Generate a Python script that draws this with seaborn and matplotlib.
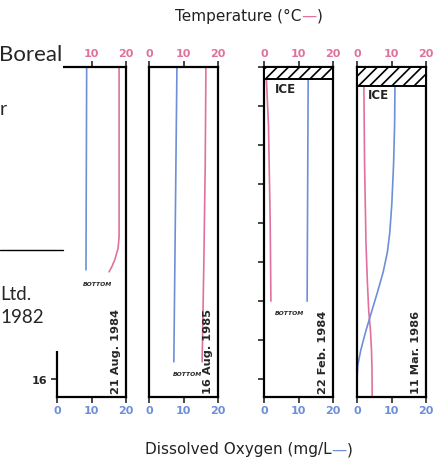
import pandas as pd
import seaborn as sns
import matplotlib.pyplot as plt
from matplotlib.patches import Rectangle

pink = "#e0719e"
blue = "#6d8fd8"

dates = ["21 Aug. 1984", "16 Aug. 1985", "22 Feb. 1984", "11 Mar. 1986"]
ice_depth = [None, None, 0.65, 1.0]
has_bottom = [True, True, True, False]
depth_ticks = [0, 2, 4, 6, 8, 10, 12, 14, 16]
x_ticks = [0, 10, 20]

# temperature profiles (depth in m, deg C)
temp_depth_1 = [0, 8.7, 9.3, 9.85, 10.2, 10.5]
temp_1 = [18.0, 18.0, 17.7, 16.8, 16.0, 15.1]
temp_depth_2 = [0, 5, 10, 15.1]
temp_2 = [16.5, 16.3, 15.9, 15.4]
temp_depth_3 = [0.65, 3, 8, 12.0]
temp_3 = [0.7, 1.3, 1.8, 2.0]
temp_depth_4 = [1.0, 5, 9, 11, 12.5, 13.5, 14.5, 15.5, 16.9]
temp_4 = [2.0, 2.2, 2.6, 3.0, 3.4, 3.9, 4.2, 4.35, 4.4]

# dissolved oxygen profiles (depth in m, mg/L)
do_depth_1 = [0, 10.4]
do_1 = [8.6, 8.4]
do_depth_2 = [0, 15.1]
do_2 = [8.1, 7.2]
do_depth_3 = [0.65, 12.0]
do_3 = [12.8, 12.5]
do_depth_4 = [1.0, 3, 5, 7, 8.5, 9.5, 10.5, 11.5, 12.5, 13.5, 14.5, 15.3,
              16.0, 16.9]
do_4 = [11.0, 10.9, 10.6, 10.1, 9.5, 8.8, 7.6, 6.0, 4.3, 2.6, 1.1, 0.2,
        0.0, 0.0]

temps = [(temp_depth_1, temp_1), (temp_depth_2, temp_2),
         (temp_depth_3, temp_3), (temp_depth_4, temp_4)]
dos = [(do_depth_1, do_1), (do_depth_2, do_2),
       (do_depth_3, do_3), (do_depth_4, do_4)]

W, H = 441, 464


def fx(px):
    return px / W


def fy(py):
    return 1 - py / H


sns.set_style("ticks")
plt.rcParams["font.family"] = ["DejaVu Sans"]
plt.rcParams["hatch.linewidth"] = 1.2

fig = plt.figure(figsize=(W / 100, H / 100), dpi=100)

lefts = [57, 149, 264, 357]
top, bottom = 67.5, 398
for i, left in enumerate(lefts):
    ax = fig.add_axes([fx(left), fy(bottom), fx(69), (bottom - top) / H])
    td, tv = temps[i]
    dd, dv = dos[i]
    df = pd.concat([
        pd.DataFrame({"depth": td, "value": tv, "var": "Temperature"}),
        pd.DataFrame({"depth": dd, "value": dv, "var": "Dissolved Oxygen"}),
    ])
    sns.lineplot(data=df, x="value", y="depth", hue="var",
                 palette={"Temperature": pink, "Dissolved Oxygen": blue},
                 orient="y", sort=True, estimator=None, legend=False,
                 lw=1.2, ax=ax)
    ax.set_xlim(0, 20)
    ax.set_ylim(16.9, 0)
    ax.set_xlabel("")
    ax.set_ylabel("")
    for sp in ax.spines.values():
        sp.set_visible(True)
        sp.set_linewidth(1.6)
        sp.set_color("black")

    ax.set_xticks(x_ticks)
    ax.tick_params(axis="x", top=True, labeltop=True, direction="out",
                   length=4, width=1.2, pad=2, labelsize=8)
    for j, t in enumerate(ax.xaxis.get_major_ticks()):
        t.label1.set_color(blue)
        t.label1.set_fontweight("bold")
        t.label2.set_color(pink)
        t.label2.set_fontweight("bold")
        if i == 0 and j == 0:
            # hidden under the pasted text box
            t.label2.set_visible(False)

    if i == 0:
        ax.set_yticks(depth_ticks)
        # only the last label shows below the pasted text box
        ax.set_yticklabels(["" for d in depth_ticks[:-1]] + ["16"])
        ax.tick_params(axis="y", direction="out", length=4, width=1.2,
                       labelsize=8, pad=3)
        for lab in ax.get_yticklabels():
            lab.set_fontweight("bold")
    elif i == 2:
        ax.set_yticks(depth_ticks)
        ax.set_yticklabels([])
        ax.tick_params(axis="y", direction="out", length=4, width=1.2)
    else:
        ax.set_yticks([])

    if ice_depth[i]:
        ax.axhspan(0, ice_depth[i], facecolor="white", edgecolor="black",
                   hatch="///", lw=1.4, zorder=3)
        ax.text(6.3, ice_depth[i] + 0.45, "ICE", fontsize=8.5,
                fontweight="bold", ha="center", va="center", color="#222222")

    if has_bottom[i]:
        ax.text((tv[-1] + dv[-1]) / 2, max(td[-1], dd[-1]) + 0.6, "BOTTOM",
                fontsize=4.3, fontweight="bold", style="italic",
                ha="center", va="center")

    ax.text(0.86, 0.012, dates[i], transform=ax.transAxes, rotation=90,
            ha="center", va="bottom", fontsize=8.2, fontweight="bold")


def colored_label(y, parts, size):
    renderer = fig.canvas.get_renderer()
    texts = [fig.text(0, y, s, color=c, fontsize=size, va="center")
             for s, c in parts]
    widths = [t.get_window_extent(renderer).width for t in texts]
    x0 = W * 0.5635 - sum(widths) / 2
    for t, w in zip(texts, widths):
        t.set_x(x0 / W)
        x0 += w


colored_label(fy(16), [("Temperature (°C", "#222222"), ("—", pink),
                       (")", "#222222")], 11)
colored_label(fy(450), [("Dissolved Oxygen (mg/L", "#222222"), ("—", blue),
                        (")", "#222222")], 11)

# overlapping text box on the left edge
fig.patches.append(Rectangle((0, fy(352)), fx(63), 1 - fy(352),
                             transform=fig.transFigure, facecolor="white",
                             edgecolor="none", zorder=10))
fig.lines.append(plt.Line2D([0, fx(63)], [fy(251), fy(251)],
                            transform=fig.transFigure, color="black",
                            lw=1, zorder=11))
fig.text(fx(62), fy(61), "Boreal", family="Lato", fontsize=16,
         ha="right", va="baseline", zorder=11)
fig.text(0, fy(115), "r", family="Lato", fontsize=14,
         ha="left", va="baseline", zorder=11)
fig.text(0, fy(300), "Ltd.", family="Lato", fontsize=13.5,
         va="baseline", zorder=11)
fig.text(0, fy(323), "1982", family="Lato", fontsize=13.5,
         va="baseline", zorder=11)

fig.savefig("out.png", dpi=100)
